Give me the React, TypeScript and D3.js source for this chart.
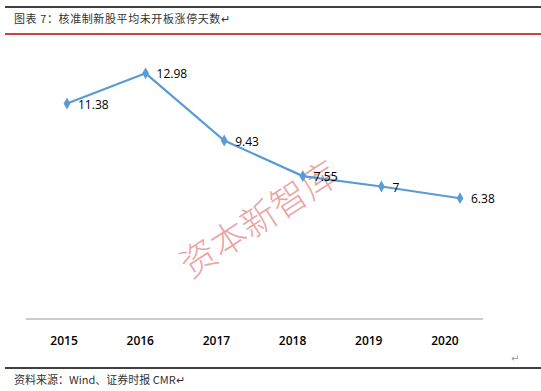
import React from "react";
import * as d3 from "d3";

const years = ["2015", "2016", "2017", "2018", "2019", "2020"];
const days = [11.38, 12.98, 9.43, 7.55, 7, 6.38];
const labels = ["11.38", "12.98", "9.43", "7.55", "7", "6.38"];

const title = "图表 7：核准制新股平均未开板涨停天数↵";
const source = "资料来源：Wind、证券时报 CMR↵";
const watermark = "资本新智库";

const W = 541;
const H = 391;

export default function App() {
  // axis band and point positions differ slightly in the original
  const xAxis = d3.scaleBand().domain(years).range([26, 483]);
  const xPt = d3.scalePoint().domain(years).range([67, 460]);
  const y = d3.scaleLinear().domain([0, 14]).range([319, 54]);

  const line = d3
    .line<number>()
    .x((_, i) => xPt(years[i])!)
    .y(d => y(d));

  const diamond = d3.symbol().type(d3.symbolDiamond).size(40)()!;

  return (
    <svg
      width={W}
      height={H}
      style={{ position: "absolute", left: 0, top: 0, background: "#fff" }}
    >
      <line x1={5} x2={W} y1={7} y2={7} stroke="#000" strokeWidth={1.5} />
      <text
        x={14}
        y={23}
        fontFamily="'Noto Sans CJK SC'"
        fontSize={11}
        letterSpacing={0.6}
        fill="#333"
      >
        {title}
      </text>
      <line x1={5} x2={W} y1={34} y2={34} stroke="#c00000" strokeWidth={1.5} />

      {/* x axis */}
      <line x1={26} x2={483} y1={319} y2={319} stroke="#999" strokeWidth={1} />
      {years.map(yr => (
        <text
          key={yr}
          x={xAxis(yr)! + xAxis.bandwidth() / 2}
          y={345}
          textAnchor="middle"
          fontFamily="'Open Sans', sans-serif"
          fontSize={12}
          fontWeight={600}
          fill="#000"
        >
          {yr}
        </text>
      ))}

      {/* watermark */}
      <text
        x={0}
        y={0}
        transform="translate(266,230) rotate(-33)"
        textAnchor="middle"
        fontFamily="'Noto Sans CJK SC'"
        fontSize={36}
        fontWeight={300}
        fill="rgba(215,70,70,0.5)"
      >
        {watermark}
      </text>

      <path
        d={line(days)!}
        fill="none"
        stroke="#5b9bd5"
        strokeWidth={2.2}
      />
      {days.map((d, i) => (
        <path
          key={i}
          d={diamond}
          transform={`translate(${xPt(years[i])},${y(d)})`}
          fill="#5b9bd5"
        />
      ))}
      {days.map((d, i) => (
        <text
          key={i}
          x={xPt(years[i])! + 11}
          y={y(d) + 5}
          fontFamily="'Open Sans', sans-serif"
          fontSize={12}
          fill="#000"
        >
          {labels[i]}
        </text>
      ))}

      <text x={511} y={362} fontSize={10} fill="#999" fontFamily="'DejaVu Sans'">
        ↵
      </text>
      <line x1={5} x2={W} y1={368} y2={368} stroke="#000" strokeWidth={1.5} />
      <text
        x={14}
        y={384}
        fontFamily="'Noto Sans CJK SC'"
        fontSize={11}
        fill="#333"
      >
        {source}
      </text>
    </svg>
  );
}
